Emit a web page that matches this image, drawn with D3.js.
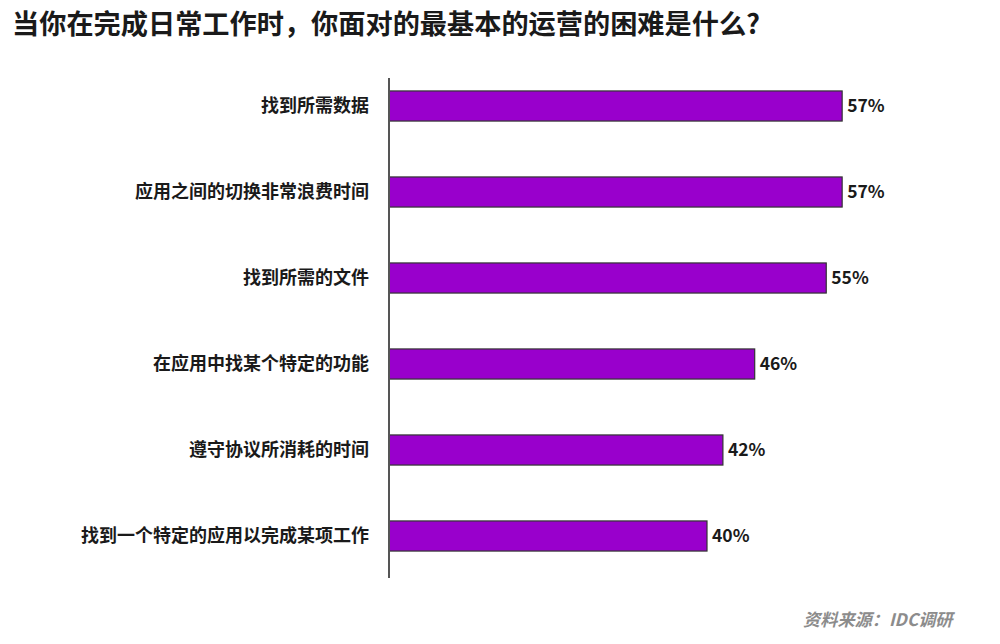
<!DOCTYPE html>
<html><head><meta charset="utf-8">
<script src="https://cdn.jsdelivr.net/npm/d3@7"></script>
<style>body{margin:0;background:#fff;}svg{display:block;font-family:"Noto Sans CJK SC","Noto Sans",sans-serif;}</style>
</head><body>
<svg id="c" width="1000" height="644"></svg>
<script>
const title = "当你在完成日常工作时，你面对的最基本的运营的困难是什么?";
const categories = ["找到所需数据","应用之间的切换非常浪费时间","找到所需的文件","在应用中找某个特定的功能","遵守协议所消耗的时间","找到一个特定的应用以完成某项工作"];
const values = [57,57,55,46,42,40];
const valueLabels = ["57%","57%","55%","46%","42%","40%"];
const source = "资料来源：IDC调研";

const svg = d3.select("#c");
const x = d3.scaleLinear().domain([0,100]).range([389, 389+795]);
const y = d3.scaleBand().domain(categories).range([63,579]).paddingInner(0.65).paddingOuter(0.325);

svg.append("text").attr("x",12).attr("y",34).attr("font-size",27.2).attr("font-weight",700)
  .attr("fill","#1a1a1a").text(title);

const data = categories.map((c,i)=>({c, v:values[i], l:valueLabels[i]}));

svg.selectAll("rect.bar").data(data).join("rect").attr("class","bar")
  .attr("x",x(0)).attr("y",d=>y(d.c)).attr("width",d=>x(d.v)-x(0)).attr("height",y.bandwidth())
  .attr("fill","#9900cc").attr("stroke","#333").attr("stroke-width",1.2);

const ax = svg.append("g").attr("transform",`translate(${x(0)},0)`)
  .call(d3.axisLeft(y).tickSize(0).tickPadding(20));
ax.select(".domain").attr("d","M0,78V578").attr("stroke","#555").attr("stroke-width",2);
ax.selectAll("text").attr("font-size",18).attr("font-weight",700).attr("fill","#1a1a1a")
  .attr("font-family","'Noto Sans CJK SC',sans-serif");

svg.selectAll("text.val").data(data).join("text").attr("class","val")
  .attr("x",d=>x(d.v)+5).attr("y",d=>y(d.c)+y.bandwidth()/2).attr("dy","0.35em")
  .attr("font-size",17.5).attr("font-weight",700).attr("fill","#1a1a1a").text(d=>d.l);

svg.append("text").attr("x",803).attr("y",626).attr("font-size",17.2).attr("font-weight",700)
  .attr("font-style","italic").attr("fill","#8c8c8c").text(source);
</script>
</body></html>
